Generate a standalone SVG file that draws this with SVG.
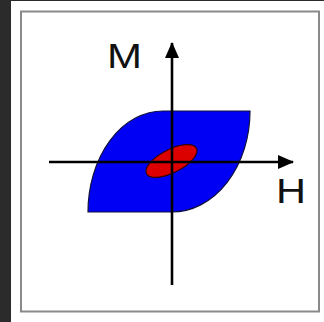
<svg xmlns="http://www.w3.org/2000/svg" width="324" height="322" viewBox="0 0 324 322">
<style>
.lbl{font-family:"Liberation Sans",Arial,sans-serif;font-size:35px;fill:#111}
.axis{stroke:#000;stroke-width:2.6;fill:none}
</style>
<defs>
<marker id="arr" viewBox="0 0 16 14" refX="15" refY="7" markerWidth="16" markerHeight="14" markerUnits="userSpaceOnUse" orient="auto">
<path d="M0,0 L16,7 L0,14 Z" fill="#000"/>
</marker>
</defs>
<rect x="0" y="0" width="324" height="322" fill="#2b2b2b"/>
<rect x="11" y="1" width="313" height="321" fill="#fff"/>
<rect x="21" y="11.5" width="298" height="300" fill="#fff" stroke="#8a8a8a" stroke-width="2"/>
<g id="loop-major">
<path d="M88,212 H172 A78,101 0 0 0 250,111 H163 A75,101 0 0 0 88,212 Z" fill="#0000f5" stroke="#101040" stroke-width="1.2"/>
</g>
<g id="loop-minor">
<ellipse cx="171.5" cy="161" rx="28" ry="11.6" transform="rotate(-27 171.5 161)" fill="#dd0000" stroke="#300" stroke-width="1.2"/>
</g>
<g id="connectors">
<line class="axis" x1="49" y1="162" x2="293" y2="162" marker-end="url(#arr)"/>
<line class="axis" x1="172" y1="285" x2="172" y2="43" marker-end="url(#arr)"/>
</g>
<g id="label-M"><text class="lbl" x="107" y="68" textLength="35" lengthAdjust="spacingAndGlyphs">M</text></g>
<g id="label-H"><text class="lbl" x="276" y="203" textLength="30" lengthAdjust="spacingAndGlyphs">H</text></g>
</svg>
